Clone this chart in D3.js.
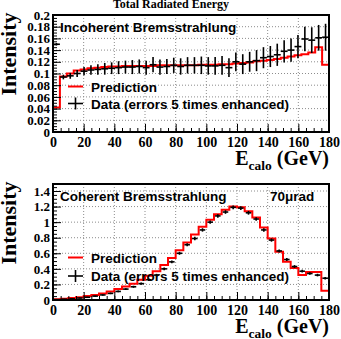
<!DOCTYPE html>
<html>
<head>
<meta charset="utf-8">
<script src="https://cdn.jsdelivr.net/npm/d3@7"></script>
<style>
body { margin: 0; background: #fff; }
</style>
</head>
<body>
<div id="chart"></div>
<script>
// x axis (GeV)
const xTicks = [0, 20, 40, 60, 80, 100, 120, 140, 160, 180];
const xLabels = ["0", "20", "40", "60", "80", "100", "120", "140", "160", "180"];

// incoherent panel
const incYTicks = [0, 0.02, 0.04, 0.06, 0.08, 0.1, 0.12, 0.14, 0.16, 0.18, 0.2];
const incYLabels = ["0", "0.02", "0.04", "0.06", "0.08", "0.1", "0.12", "0.14", "0.16", "0.18", "0.2"];
const incPrediction = [0.042, 0.095, 0.100, 0.105, 0.107, 0.109, 0.110, 0.111, 0.112, 0.112,
    0.113, 0.113, 0.113, 0.113, 0.113, 0.114, 0.114, 0.114, 0.114, 0.114,
    0.114, 0.115, 0.115, 0.115, 0.116, 0.116, 0.117, 0.118, 0.119, 0.121,
    0.122, 0.123, 0.125, 0.127, 0.129, 0.131, 0.133, 0.136, 0.145, 0.115];
const incData = [0.150, 0.094, 0.096, 0.100, 0.104, 0.106, 0.107, 0.108, 0.109, 0.110,
    0.111, 0.111, 0.112, 0.110, 0.115, 0.111, 0.112, 0.114, 0.112, 0.114,
    0.114, 0.114, 0.113, 0.113, 0.114, 0.110, 0.120, 0.116, 0.120, 0.122,
    0.127, 0.129, 0.132, 0.138, 0.140, 0.146, 0.159, 0.157, 0.161, 0.162];
const incErrors = [0.002, 0.004, 0.005, 0.006, 0.007, 0.008, 0.009, 0.010, 0.010, 0.011,
    0.011, 0.012, 0.012, 0.012, 0.013, 0.013, 0.013, 0.013, 0.014, 0.014,
    0.014, 0.015, 0.015, 0.015, 0.016, 0.016, 0.016, 0.017, 0.017, 0.018,
    0.018, 0.018, 0.019, 0.019, 0.020, 0.020, 0.021, 0.022, 0.022, 0.023];

// coherent panel
const cohYTicks = [0, 0.2, 0.4, 0.6, 0.8, 1, 1.2, 1.4];
const cohYLabels = ["0", "0.2", "0.4", "0.6", "0.8", "1", "1.2", "1.4"];
const cohPrediction = [0.010, 0.015, 0.025, 0.035, 0.050, 0.065, 0.085, 0.110, 0.140, 0.175,
    0.210, 0.260, 0.310, 0.370, 0.450, 0.540, 0.640, 0.740, 0.840, 0.940,
    1.030, 1.100, 1.160, 1.200, 1.190, 1.140, 1.060, 0.930, 0.790, 0.620,
    0.490, 0.410, 0.320, 0.360, 0.360, 0.120];
const cohData = [0.005, 0.010, 0.015, 0.025, 0.035, 0.050, 0.065, 0.085, 0.110, 0.140,
    0.170, 0.210, 0.260, 0.320, 0.400, 0.490, 0.600, 0.710, 0.790, 0.900,
    1.000, 1.080, 1.130, 1.190, 1.180, 1.120, 1.040, 0.900, 0.770, 0.630,
    0.520, 0.430, 0.370, 0.340, 0.320, 0.280];
const cohErrors = [0.003, 0.004, 0.005, 0.006, 0.007, 0.008, 0.009, 0.010, 0.011, 0.012,
    0.013, 0.014, 0.015, 0.016, 0.017, 0.018, 0.019, 0.020, 0.021, 0.022,
    0.022, 0.023, 0.023, 0.024, 0.024, 0.024, 0.023, 0.022, 0.021, 0.020,
    0.019, 0.018, 0.018, 0.017, 0.017, 0.017];

const width = 341;
const height = 339;
const serif = "'Liberation Serif', 'Times New Roman', serif";
const sans = "'Liberation Sans', Arial, Helvetica, sans-serif";

const svg = d3.select('#chart')
    .append('svg')
    .attr('width', width)
    .attr('height', height)
    .style('display', 'block');

svg.append('text')
    .attr('x', 171)
    .attr('y', 8)
    .attr('text-anchor', 'middle')
    .style('font-family', serif)
    .style('font-weight', 'bold')
    .style('font-size', '12px')
    .text('Total Radiated Energy');

const x = d3.scaleLinear()
    .domain([0, 180])
    .range([53, 329]);

function drawPanel(p) {
    const y = d3.scaleLinear()
        .domain([0, p.yMax])
        .range([p.bottom, p.top]);

    const g = svg.append('g');

    // dotted grid
    g.selectAll('.gx')
        .data(xTicks.slice(1, -1))
        .enter()
        .append('line')
        .attr('x1', d => x(d)).attr('x2', d => x(d))
        .attr('y1', p.top).attr('y2', p.bottom)
        .style('stroke', '#8c8c8c')
        .style('stroke-width', 1)
        .style('stroke-dasharray', '1,2');

    g.selectAll('.gy')
        .data(p.yTicks.filter(d => d > 0 && y(d) > p.top + 1))
        .enter()
        .append('line')
        .attr('x1', x(0)).attr('x2', x(180))
        .attr('y1', d => y(d)).attr('y2', d => y(d))
        .style('stroke', '#8c8c8c')
        .style('stroke-width', 1)
        .style('stroke-dasharray', '1,2');

    // prediction histogram
    const binW = 180 / p.prediction.length;
    let pts = [[0, 0]];
    p.prediction.forEach((v, i) => {
        pts.push([i * binW, v]);
        pts.push([(i + 1) * binW, v]);
    });
    pts.push([180, 0]);

    const histLine = d3.line()
        .x(d => x(d[0]))
        .y(d => y(d[1]));

    g.append('path')
        .attr('d', histLine(pts))
        .attr('fill', 'none')
        .style('stroke', '#ff0000')
        .style('stroke-width', 2);

    // data points with error crosses
    const dW = 180 / p.data.length;
    const crosses = g.selectAll('.cross')
        .data(p.data.map((v, i) => ({ i: i, v: v, e: p.errors[i] })))
        .enter()
        .append('g')
        .attr('class', 'cross');

    crosses.append('line')
        .attr('x1', d => x((d.i + 0.5 - p.arm / 2) * dW))
        .attr('x2', d => x((d.i + 0.5 + p.arm / 2) * dW))
        .attr('y1', d => y(d.v)).attr('y2', d => y(d.v))
        .style('stroke', '#000')
        .style('stroke-width', 1.6);

    crosses.append('line')
        .attr('x1', d => x((d.i + 0.5) * dW)).attr('x2', d => x((d.i + 0.5) * dW))
        .attr('y1', d => y(d.v - d.e)).attr('y2', d => y(d.v + d.e))
        .style('stroke', '#000')
        .style('stroke-width', 1.6);

    // frame
    g.append('rect')
        .attr('x', x(0))
        .attr('y', p.top)
        .attr('width', x(180) - x(0))
        .attr('height', p.bottom - p.top)
        .attr('fill', 'none')
        .style('stroke', '#000')
        .style('stroke-width', 2);

    // ticks inside the frame
    const minorX = d3.range(0, 181, 5);
    g.append('g')
        .attr('transform', 'translate(0,' + p.bottom + ')')
        .call(d3.axisBottom(x).tickValues(minorX).tickSize(-4).tickFormat(''))
        .call(a => a.select('.domain').remove());

    g.append('g')
        .attr('transform', 'translate(0,' + p.bottom + ')')
        .call(d3.axisBottom(x).tickValues(xTicks).tickSize(-8).tickPadding(5)
            .tickFormat((d, i) => xLabels[i]))
        .call(a => a.select('.domain').remove())
        .call(a => a.selectAll('text')
            .style('font-family', serif)
            .style('font-weight', 'bold')
            .style('font-size', '14px'));

    const step = p.yTicks[1] / 4;
    const minorY = d3.range(0, p.yMax + 1e-9, step);
    g.append('g')
        .attr('transform', 'translate(' + x(0) + ',0)')
        .call(d3.axisLeft(y).tickValues(minorY).tickSize(-4).tickFormat(''))
        .call(a => a.select('.domain').remove());

    g.append('g')
        .attr('transform', 'translate(' + x(0) + ',0)')
        .call(d3.axisLeft(y).tickValues(p.yTicks).tickSize(-8).tickPadding(3)
            .tickFormat((d, i) => p.yLabels[i]))
        .call(a => a.select('.domain').remove())
        .call(a => a.selectAll('text')
            .style('font-family', serif)
            .style('font-weight', 'bold')
            .style('font-size', '13px'));

    // y title
    g.append('text')
        .attr('transform', 'translate(16,' + p.yTitleMid + ') rotate(-90)')
        .attr('text-anchor', 'middle')
        .style('font-family', serif)
        .style('font-weight', 'bold')
        .style('font-size', '22px')
        .text('Intensity');

    // x title
    const xt = g.append('text')
        .attr('x', 329)
        .attr('y', p.bottom + 33)
        .attr('text-anchor', 'end')
        .style('font-family', serif)
        .style('font-weight', 'bold')
        .style('font-size', '20px');
    xt.append('tspan').text('E');
    xt.append('tspan').attr('dy', 5).style('font-size', '13.5px').text('calo');
    xt.append('tspan').attr('dy', -5).text(' (GeV)');

    // panel label
    g.append('text')
        .attr('x', 60)
        .attr('y', p.top + 17)
        .style('font-family', sans)
        .style('font-weight', 'bold')
        .style('font-size', '13.5px')
        .text(p.label);

    if (p.angle) {
        g.append('text')
            .attr('x', 270)
            .attr('y', p.top + 17)
            .style('font-family', sans)
            .style('font-weight', 'bold')
            .style('font-size', '13.5px')
            .text(p.angle);
    }

    // legend
    g.append('line')
        .attr('x1', 68).attr('x2', 83)
        .attr('y1', p.legY).attr('y2', p.legY)
        .style('stroke', '#ff0000')
        .style('stroke-width', 2);
    g.append('text')
        .attr('x', 91)
        .attr('y', p.legY + 5)
        .style('font-family', sans)
        .style('font-weight', 'bold')
        .style('font-size', '13.5px')
        .text('Prediction');

    const ly = p.legY + p.legGap;
    g.append('line')
        .attr('x1', 68).attr('x2', 83)
        .attr('y1', ly).attr('y2', ly)
        .style('stroke', '#000')
        .style('stroke-width', 1.6);
    g.append('line')
        .attr('x1', 75.5).attr('x2', 75.5)
        .attr('y1', ly - 6).attr('y2', ly + 6)
        .style('stroke', '#000')
        .style('stroke-width', 1.6);
    g.append('text')
        .attr('x', 91)
        .attr('y', ly + 5)
        .style('font-family', sans)
        .style('font-weight', 'bold')
        .style('font-size', '13.5px')
        .text('Data (errors 5 times enhanced)');
}

drawPanel({
    top: 15, bottom: 132, yMax: 0.2,
    yTicks: incYTicks, yLabels: incYLabels,
    prediction: incPrediction, data: incData, errors: incErrors,
    arm: 1, label: 'Incoherent Bremsstrahlung',
    legY: 86.5, legGap: 17, yTitleMid: 54
});

drawPanel({
    top: 184, bottom: 300, yMax: 1.49,
    yTicks: cohYTicks, yLabels: cohYLabels,
    prediction: cohPrediction, data: cohData, errors: cohErrors,
    arm: 0.72, label: 'Coherent Bremsstrahlung', angle: '70\u03bcrad',
    legY: 257.5, legGap: 18.5, yTitleMid: 223
});
</script>
</body>
</html>
